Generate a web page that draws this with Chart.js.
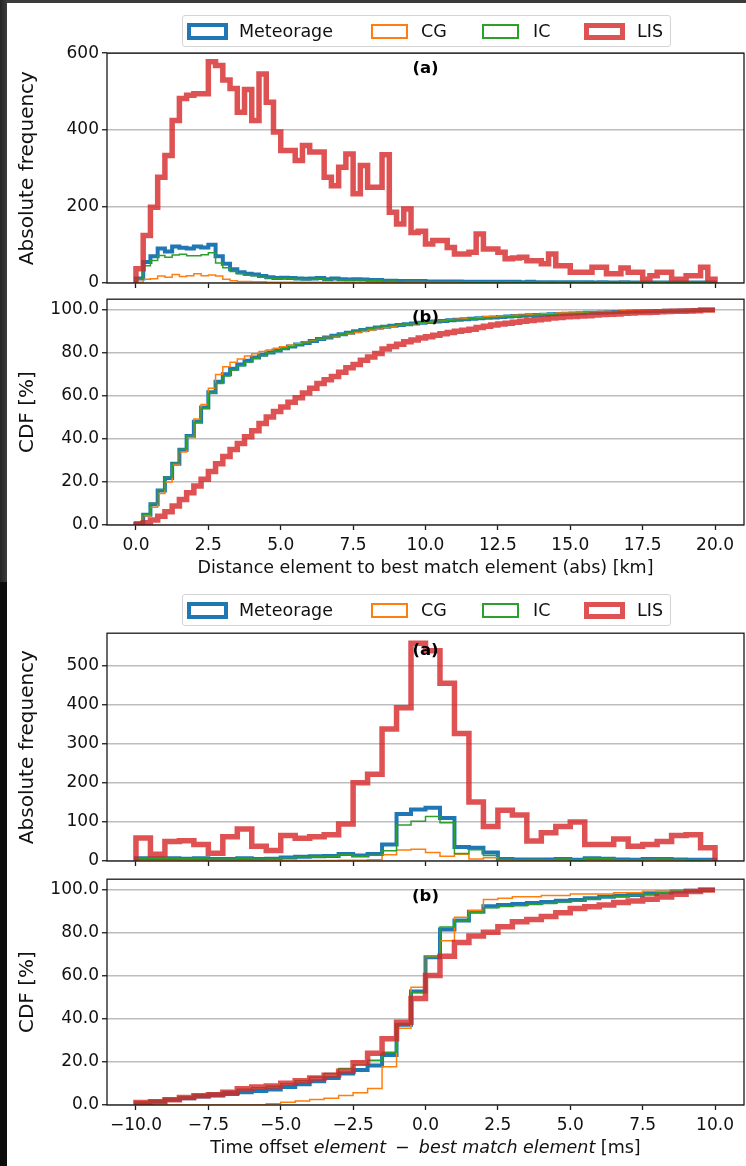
<!DOCTYPE html>
<html>
<head>
<meta charset="utf-8">
<title>Element match distance and time offset</title>
<script src="https://cdn.jsdelivr.net/npm/chart.js@4.4.1/dist/chart.umd.min.js"></script>
<style>
  html, body { margin: 0; padding: 0; background: #fff; }
  body { width: 746px; height: 1166px; position: relative; overflow: hidden; font-family: 'DejaVu Sans', sans-serif; }
  canvas { position: absolute; left: 0; }
  .edge { position: absolute; }
  .legend { position: absolute; left: 182px; width: 487px; height: 30px; border: 1px solid #d4d4d4; border-radius: 3px; background: rgba(255,255,255,0.85); z-index: 5; }
  .legend .patch { position: absolute; box-sizing: border-box; }
  .legend .lbl { position: absolute; top: 0; line-height: 30px; font-size: 17.5px; color: #111; white-space: nowrap; }
</style>
</head>
<body>
<div class="edge" style="left:0;top:0;width:746px;height:3px;background:#3b3b3b"></div>
<div class="edge" style="left:0;top:0;width:7px;height:582px;background:linear-gradient(to right,#252525,#3c3c3c)"></div>
<div class="edge" style="left:0;top:582px;width:7px;height:584px;background:#0d0d0d"></div>

<canvas id="distHist" width="746" height="260" style="top:40px"></canvas>
<canvas id="distCdf" width="746" height="300" style="top:286px"></canvas>
<canvas id="timeHist" width="746" height="258" style="top:620px"></canvas>
<canvas id="timeCdf" width="746" height="300" style="top:866px"></canvas>

<div class="legend" id="legendTop" style="top:15px"></div>
<div class="legend" id="legendBottom" style="top:594px"></div>

<script>
// ---- data ----------------------------------------------------------------
const seriesNames = ['Meteorage', 'CG', 'IC', 'LIS'];

// distance to best match element, 0.25 km bins from 0 to 20 km
const distMeteorage = [
  12, 55, 70, 90, 82, 95, 92, 90, 95, 93,
  100, 70, 50, 36, 28, 24, 22, 18, 15, 13,
  14, 13, 12, 11, 12, 13, 10, 12, 10, 9,
  10, 9, 8, 8, 6, 6, 5, 5, 5, 5,
  4, 4, 4, 4, 4, 3, 3, 3, 3, 3,
  3, 3, 3, 2, 3, 2, 2, 2, 2, 2,
  2, 2, 2, 1, 2, 1, 1, 2, 1, 1,
  1, 1, 1, 1, 1, 1, 1, 1, 1, 1
];
const distCG = [
  2, 10, 11, 18, 15, 22, 17, 19, 24, 19,
  21, 18, 10, 6, 4, 4, 3, 3, 2, 2,
  2, 2, 2, 2, 2, 2, 2, 2, 2, 1,
  2, 1, 2, 1, 2, 1, 2, 1, 1, 1,
  1, 1, 1, 1, 1, 1, 0, 1, 1, 0,
  1, 0, 1, 0, 1, 0, 1, 0, 1, 0,
  0, 1, 0, 0, 1, 0, 0, 1, 0, 0,
  0, 0, 1, 0, 0, 0, 0, 0, 0, 0
];
const distIC = [
  10, 45, 59, 72, 67, 73, 75, 71, 71, 74,
  79, 52, 40, 30, 24, 20, 19, 15, 13, 11,
  12, 11, 10, 9, 10, 11, 8, 10, 8, 8,
  8, 8, 6, 7, 4, 5, 3, 4, 4, 4,
  3, 3, 3, 3, 3, 2, 3, 2, 2, 3,
  2, 3, 2, 2, 2, 2, 1, 2, 1, 2,
  2, 1, 2, 1, 1, 1, 1, 1, 1, 1,
  1, 1, 0, 1, 1, 1, 1, 1, 1, 1
];
const distLIS = [
  37, 124, 198, 276, 333, 424, 482, 490, 494, 494,
  578, 568, 530, 508, 446, 505, 424, 546, 472, 394,
  346, 346, 320, 359, 342, 342, 276, 254, 302, 337,
  233, 307, 250, 250, 335, 185, 154, 193, 132, 135,
  102, 111, 111, 93, 76, 76, 80, 128, 89, 89,
  80, 63, 65, 67, 58, 58, 50, 76, 45, 45,
  28, 28, 28, 41, 41, 24, 24, 39, 28, 28,
  10, 19, 28, 28, 10, 10, 19, 19, 41, 10
];

// time offset to best match element, 0.5 ms bins from -10 to 10 ms
const timeMeteorage = [
  7, 7, 7, 6, 7, 5, 5, 7, 5, 6,
  9, 11, 12, 13, 18, 14, 18, 42, 120, 132,
  136, 110, 36, 34, 22, 5, 4, 4, 4, 5,
  3, 7, 6, 4, 3, 5, 5, 4, 3, 3
];
const timeCG = [
  0, 0, 0, 0, 0, 0, 0, 0, 0, 1,
  1, 1, 1, 1, 2, 2, 3, 16, 28, 30,
  22, 12, 17, 5, 8, 1, 1, 0, 1, 0,
  1, 0, 0, 1, 0, 1, 0, 0, 1, 0
];
const timeIC = [
  7, 7, 7, 6, 7, 5, 5, 7, 5, 5,
  8, 10, 11, 12, 16, 12, 15, 26, 92, 102,
  114, 98, 19, 29, 14, 4, 3, 4, 3, 5,
  2, 7, 6, 3, 3, 4, 5, 4, 2, 3
];
const timeLIS = [
  59, 17, 50, 52, 42, 20, 62, 82, 38, 27,
  65, 58, 62, 67, 95, 200, 222, 338, 392, 557,
  538, 455, 326, 151, 88, 130, 118, 51, 72, 88,
  100, 42, 42, 56, 38, 42, 50, 65, 67, 34
];

// axis ticks
const distTicks = [0, 2.5, 5, 7.5, 10, 12.5, 15, 17.5, 20];
const timeTicks = [-10, -7.5, -5, -2.5, 0, 2.5, 5, 7.5, 10];
const distFreqTicks = [0, 200, 400, 600];
const timeFreqTicks = [0, 100, 200, 300, 400, 500];
const cdfTicks = [0, 20, 40, 60, 80, 100];

// ---- styling -------------------------------------------------------------
const FONT = "'DejaVu Sans', 'Liberation Sans', sans-serif";
Chart.defaults.font.family = FONT;

const styles = {
  Meteorage: { color: '#1f77b4', width: 4 },
  CG: { color: '#ff7f0e', width: 1.5 },
  IC: { color: '#2ca02c', width: 1.5 },
  LIS: { color: 'rgba(214,39,40,0.8)', width: 5.5 }
};

function binEdges(start, width, n) {
  const e = [];
  for (let i = 0; i <= n; i++) e.push(start + i * width);
  return e;
}

// step outline of a histogram, closed down to zero on both ends
function histPoints(e, counts) {
  const n = counts.length;
  const pts = [{ x: e[0], y: 0 }];
  counts.forEach((c, i) => pts.push({ x: e[i], y: c }));
  pts.push({ x: e[n], y: counts[n - 1] });
  pts.push({ x: e[n], y: 0 });
  return pts;
}

// cumulative share in percent, same bins
function cdfPoints(e, counts) {
  const n = counts.length;
  const total = counts.reduce((a, b) => a + b, 0);
  let run = 0;
  const pts = [{ x: e[0], y: 0 }];
  counts.forEach((c, i) => { run += c; pts.push({ x: e[i], y: 100 * run / total }); });
  pts.push({ x: e[n], y: 100 });
  return pts;
}

function buildDatasets(e, series, toPoints) {
  return seriesNames.map((name, k) => ({
    label: name,
    data: toPoints(e, series[name]),
    borderColor: styles[name].color,
    borderWidth: styles[name].width,
    stepped: 'before',
    fill: false,
    pointRadius: 0,
    clip: 0,
    order: seriesNames.length - k,
    borderJoinStyle: 'miter',
    borderCapStyle: 'butt'
  }));
}

// frame, panel tag and (optionally) a mixed-style x label
function decor(tag, tagOffset, xlabel) {
  return {
    id: 'decor',
    afterDatasetsDraw(chart) {
      const { ctx, chartArea: a } = chart;
      ctx.save();
      ctx.strokeStyle = '#1a1a1a';
      ctx.lineWidth = 1.3;
      ctx.strokeRect(a.left, a.top, a.right - a.left, a.bottom - a.top);

      ctx.fillStyle = '#000';
      ctx.textBaseline = 'middle';
      ctx.textAlign = 'center';
      ctx.font = 'bold 16.5px ' + FONT;
      ctx.fillText(tag, (a.left + a.right) / 2, a.top + tagOffset);

      if (xlabel) {
        const parts = xlabel.map(([text, italic]) => {
          ctx.font = (italic ? 'italic ' : '') + '17.5px ' + FONT;
          return { text, italic, w: ctx.measureText(text).width };
        });
        const total = parts.reduce((s, p) => s + p.w, 0);
        let x = (a.left + a.right) / 2 - total / 2;
        ctx.textAlign = 'left';
        ctx.fillStyle = '#111';
        parts.forEach(p => {
          ctx.font = (p.italic ? 'italic ' : '') + '17.5px ' + FONT;
          ctx.fillText(p.text, x, a.bottom + 43);
          x += p.w;
        });
      }
      ctx.restore();
    }
  };
}

const fmtDecimal = v => (v < 0 ? '\u2212' : '') + Math.abs(v).toFixed(1);
const fmtInt = v => String(v);

function makePanel(id, cfg) {
  new Chart(document.getElementById(id), {
    type: 'line',
    data: { datasets: cfg.datasets },
    options: {
      responsive: false,
      animation: false,
      devicePixelRatio: 1,
      layout: { padding: { top: cfg.padTop, right: 2, left: 0, bottom: 0 } },
      plugins: { legend: { display: false }, tooltip: { enabled: false } },
      elements: { line: { tension: 0 }, point: { radius: 0 } },
      scales: {
        x: {
          type: 'linear',
          min: cfg.xMin,
          max: cfg.xMax,
          afterBuildTicks: s => { s.ticks = cfg.xTicks.map(v => ({ value: v })); },
          afterFit: s => { s.height = cfg.xHeight; },
          border: { display: false },
          grid: { drawOnChartArea: false, drawTicks: true, tickLength: 5, tickColor: '#1a1a1a', tickWidth: 1.3 },
          ticks: {
            display: cfg.xLabels,
            autoSkip: false,
            maxRotation: 0,
            padding: 5,
            color: '#111',
            font: { size: 17 },
            callback: v => fmtDecimal(v)
          }
        },
        y: {
          min: 0,
          max: cfg.yMax,
          afterBuildTicks: s => { s.ticks = cfg.yTicks.map(v => ({ value: v })); },
          afterFit: s => { s.width = 107; },
          border: { display: false },
          grid: { color: '#bdbdbd', lineWidth: 1.5, drawTicks: true, tickLength: 5, tickColor: '#1a1a1a', tickWidth: 1.3 },
          ticks: { padding: 3, color: '#111', font: { size: 17 }, callback: cfg.yFmt },
          title: { display: true, text: cfg.yTitle, color: '#111', font: { size: 20 }, padding: { top: 16, bottom: 0 } }
        }
      }
    },
    plugins: [decor(cfg.tag, cfg.tagOffset, cfg.xTitle)]
  });
}

const distEdges = binEdges(0, 0.25, distLIS.length);
const timeEdges = binEdges(-10, 0.5, timeLIS.length);
const distSeries = { Meteorage: distMeteorage, CG: distCG, IC: distIC, LIS: distLIS };
const timeSeries = { Meteorage: timeMeteorage, CG: timeCG, IC: timeIC, LIS: timeLIS };

makePanel('distHist', {
  datasets: buildDatasets(distEdges, distSeries, histPoints),
  padTop: 13, xHeight: 17, xMin: -1, xMax: 21, xTicks: distTicks, xLabels: false,
  yMax: 600, yTicks: distFreqTicks, yFmt: fmtInt, yTitle: 'Absolute frequency',
  tag: '(a)', tagOffset: 16
});
makePanel('distCdf', {
  datasets: buildDatasets(distEdges, distSeries, cdfPoints),
  padTop: 8, xHeight: 61, xMin: -1, xMax: 21, xTicks: distTicks, xLabels: true,
  yMax: 105, yTicks: cdfTicks, yFmt: v => v.toFixed(1), yTitle: 'CDF [%]',
  tag: '(b)', tagOffset: 19,
  xTitle: [['Distance element to best match element (abs) [km]', false]]
});
makePanel('timeHist', {
  datasets: buildDatasets(timeEdges, timeSeries, histPoints),
  padTop: 10, xHeight: 17, xMin: -11, xMax: 11, xTicks: timeTicks, xLabels: false,
  yMax: 583, yTicks: timeFreqTicks, yFmt: fmtInt, yTitle: 'Absolute frequency',
  tag: '(a)', tagOffset: 18
});
makePanel('timeCdf', {
  datasets: buildDatasets(timeEdges, timeSeries, cdfPoints),
  padTop: 7, xHeight: 61, xMin: -11, xMax: 11, xTicks: timeTicks, xLabels: true,
  yMax: 105, yTicks: cdfTicks, yFmt: v => v.toFixed(1), yTitle: 'CDF [%]',
  tag: '(b)', tagOffset: 18,
  xTitle: [['Time offset ', false], ['element', true], ['\u2009 \u2212 \u2009', false], ['best match element', true], [' [ms]', false]]
});

// ---- legends ---------------------------------------------------------------
const legendItems = [
  { name: 'Meteorage', patchLeft: 4, textLeft: 56, w: 41, h: 17, border: 4 },
  { name: 'CG', patchLeft: 188, textLeft: 238, w: 37, h: 15, border: 2 },
  { name: 'IC', patchLeft: 299, textLeft: 350, w: 37, h: 15, border: 2 },
  { name: 'LIS', patchLeft: 401, textLeft: 454, w: 41, h: 17, border: 5 }
];
['legendTop', 'legendBottom'].forEach(id => {
  const box = document.getElementById(id);
  legendItems.forEach(it => {
    const patch = document.createElement('div');
    patch.className = 'patch';
    patch.style.left = it.patchLeft + 'px';
    patch.style.top = Math.round(15 - it.h / 2) + 'px';
    patch.style.width = it.w + 'px';
    patch.style.height = it.h + 'px';
    patch.style.border = it.border + 'px solid ' + styles[it.name].color;
    box.appendChild(patch);
    const lbl = document.createElement('span');
    lbl.className = 'lbl';
    lbl.style.left = it.textLeft + 'px';
    lbl.textContent = it.name;
    box.appendChild(lbl);
  });
});
</script>
</body>
</html>
